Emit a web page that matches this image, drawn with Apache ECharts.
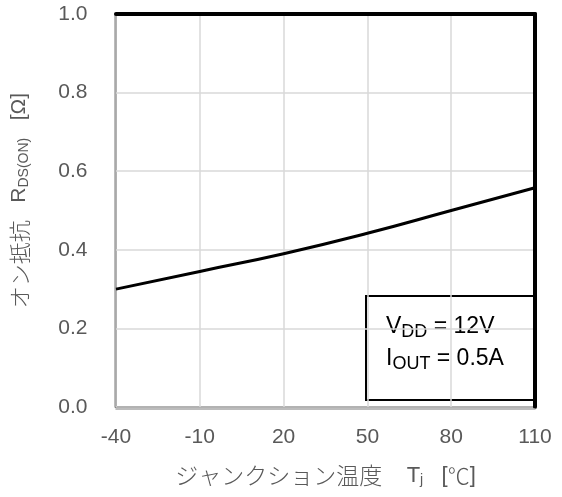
<!DOCTYPE html>
<html><head><meta charset="utf-8">
<script src="https://cdn.jsdelivr.net/npm/echarts@6/dist/echarts.min.js"></script>
<style>html,body{margin:0;padding:0;background:#fff}#c{width:562px;height:497px}</style>
</head><body><div id="c"></div>
<script>
const temps = [-40, -10, 20, 50, 80, 110];
const rdsOn = [0.30, 0.345, 0.39, 0.442, 0.50, 0.558];
const xTicks = [-40, -10, 20, 50, 80, 110];
const yTicks = [0.0, 0.2, 0.4, 0.6, 0.8, 1.0];

const chart = echarts.init(document.getElementById('c'));
const labelColor = '#595959';
const font = 'Arial, "Liberation Sans", sans-serif';
const jfont = '"Noto Sans CJK JP", sans-serif';
const subStyle = { fontSize: 14, fontFamily: font, color: labelColor, verticalAlign: 'bottom', padding: [10,0,0,0] };
chart.setOption({
  animation: false,
  grid: { left: 116, right: 27, top: 14, bottom: 90, show: true, borderColor: '#000', borderWidth: 1.5 },
  xAxis: [{
    type: 'value', min: xTicks[0], max: xTicks[xTicks.length-1], interval: 30, offset: 1.5,
    axisLine: { show: true, onZero: false, lineStyle: { color: '#a6a6a6', width: 1.5 } },
    axisTick: { show: false },
    splitLine: { show: true, lineStyle: { color: '#d9d9d9', width: 1.5 } },
    axisLabel: { color: labelColor, fontSize: 21, fontFamily: font, margin: 18 },
    name: '{jp|ジャンクション温度}    T{sub|j}   [{jp2|℃}]',
    nameLocation: 'middle', nameGap: 55,
    nameTextStyle: { color: labelColor, fontSize: 22, fontFamily: font,
      rich: { jp: { fontSize: 23, fontFamily: jfont, color: labelColor, fontWeight: 300 },
              jp2: { fontSize: 22, fontFamily: jfont, color: labelColor, fontWeight: 300 },
              sub: subStyle } }
  }, {
    type: 'value', position: 'top', min: -40, max: 110, interval: 30,
    axisLine: { show: true, onZero: false, lineStyle: { color: '#000', width: 4 } },
    axisTick: { show: false }, axisLabel: { show: false }, splitLine: { show: false }
  }],
  yAxis: [{
    type: 'value', min: 0, max: 1.0, interval: 0.2, offset: 1.5,
    axisLine: { show: true, onZero: false, lineStyle: { color: '#a6a6a6', width: 1.5 } },
    axisTick: { show: false },
    splitLine: { show: true, lineStyle: { color: '#d9d9d9', width: 1.5 } },
    axisLabel: { color: labelColor, fontSize: 21, fontFamily: font, margin: 27, formatter: v => v.toFixed(1) },
    name: '{jp|オン抵抗}   R{sub|DS(ON)}   [Ω]',
    nameLocation: 'middle', nameGap: 83, nameRotate: 90,
    nameTextStyle: { color: labelColor, fontSize: 21, fontFamily: font, padding: [0, 0, 0, 20],
      rich: { jp: { fontSize: 22, fontFamily: jfont, color: labelColor, fontWeight: 300 }, sub: subStyle } }
  }, {
    type: 'value', position: 'right', min: 0, max: 1.0, interval: 0.2,
    axisLine: { show: true, onZero: false, lineStyle: { color: '#000', width: 4 } },
    axisTick: { show: false }, axisLabel: { show: false }, splitLine: { show: false }
  }],
  series: [{
    type: 'line', smooth: true, showSymbol: false,
    data: temps.map((t, i) => [t, rdsOn[i]]),
    lineStyle: { color: '#000', width: 3 }
  }],
  graphic: [{
    type: 'group', left: 365, top: 295, z: 100,
    children: [
      { type: 'rect', shape: { x: 0, y: 0, width: 168, height: 104 }, style: { fill: '#fff', stroke: '#000', lineWidth: 2 } },
      { type: 'text', style: { x: 20, y: 31, verticalAlign: 'middle', text: 'V{s|DD} = 12V', fill: '#000', font: '23px Arial, "Liberation Sans", sans-serif',
        rich: { s: { fontSize: 18, fontFamily: font, fill: '#000', verticalAlign: 'bottom', padding: [10,0,0,0] } } } },
      { type: 'text', style: { x: 20, y: 63, verticalAlign: 'middle', text: 'I{s|OUT} = 0.5A', fill: '#000', font: '23px Arial, "Liberation Sans", sans-serif',
        rich: { s: { fontSize: 18, fontFamily: font, fill: '#000', verticalAlign: 'bottom', padding: [10,0,0,0] } } } }
    ]
  }]
});
</script></body></html>
